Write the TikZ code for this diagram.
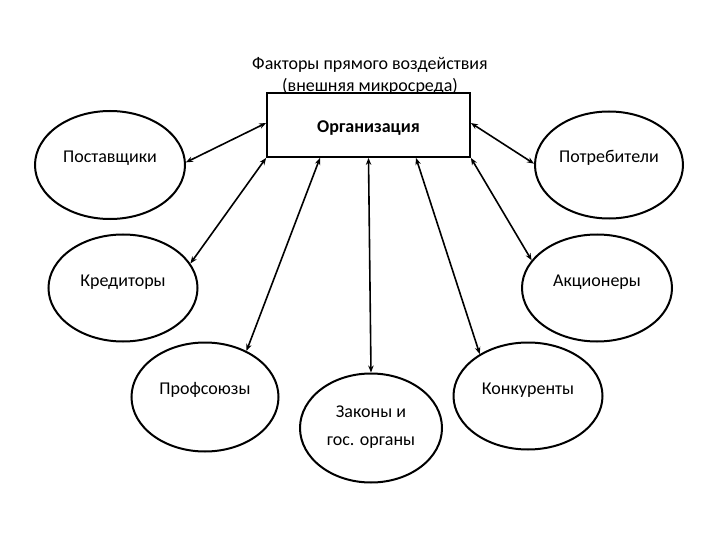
\documentclass[tikz,border=0pt]{standalone}
\usepackage{fontspec}
\setmainfont{Carlito}
\usetikzlibrary{shapes.geometric,arrows.meta}
\begin{document}
\begin{tikzpicture}[x=1pt,y=-1pt,
  ell/.style={ellipse,draw,line width=2pt,inner sep=0pt},
  lbl/.style={font=\fontsize{18}{22}\selectfont,inner sep=0pt},
  conn/.style={line width=1.6pt,{Stealth[length=7pt,width=5.5pt]}-{Stealth[length=7pt,width=5.5pt]}}]
\useasboundingbox (0,0) rectangle (720,540);
\node[draw,line width=1.8pt,minimum width=203pt,minimum height=64pt,inner sep=0pt] (org) at (368.5,125) {};
\node[lbl,font=\fontsize{18}{22}\selectfont\bfseries] (orgt) at (368.5,128) {Организация};
\node[lbl,align=center] (title) at (370,76) {Факторы прямого воздействия\\(внешняя микросреда)};
\node[ell,minimum width=150pt,minimum height=108pt] (sup) at (110,165) {};
\node[ell,minimum width=148pt,minimum height=107pt] (cons) at (609,165) {};
\node[ell,minimum width=149pt,minimum height=107pt] (cred) at (123,288) {};
\node[ell,minimum width=150pt,minimum height=107pt] (share) at (597,288) {};
\node[ell,minimum width=147pt,minimum height=109pt] (union) at (205,397) {};
\node[ell,minimum width=149pt,minimum height=107pt] (comp) at (528,396) {};
\node[ell,minimum width=142pt,minimum height=109pt] (law) at (371,428) {};
\node[lbl] (supt) at (110,158) {Поставщики};
\node[lbl] (const) at (609,158) {Потребители};
\node[lbl] (credt) at (123,282) {Кредиторы};
\node[lbl] (sharet) at (597,282) {Акционеры};
\node[lbl] (uniont) at (205,390) {Профсоюзы};
\node[lbl] (compt) at (528,390) {Конкуренты};
\node[lbl] (lawt1) at (371,412) {Законы и};
\node[lbl] (lawt2) at (371,443) {гос. органы};
\draw[conn] ([yshift=2pt]org.west) -- (sup.2);
\draw[conn] (org.south west) -- (cred.20);
\draw[conn] ([xshift=-48.5pt]org.south) -- (union.48);
\draw[conn] (org.south) -- (law.north);
\draw[conn] ([xshift=47.5pt]org.south) -- (comp.139);
\draw[conn] (org.south east) -- (share.157);
\draw[conn] ([yshift=2pt]org.east) -- (cons.179);
\end{tikzpicture}
\end{document}
